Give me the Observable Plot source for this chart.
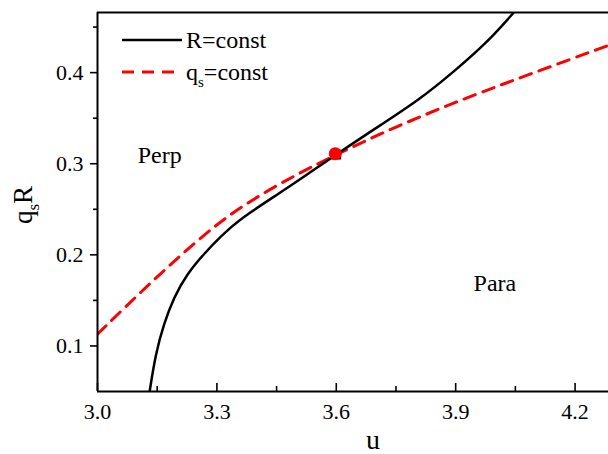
<!DOCTYPE html>
<html><head><meta charset="utf-8">
<script src="https://cdn.jsdelivr.net/npm/d3@7"></script>
<script src="https://cdn.jsdelivr.net/npm/@observablehq/plot@0.6"></script>
<style>body{margin:0;background:#fff}</style>
</head><body><div id="chart"></div>
<script>
// R = const (solid black)
const rConstU = [3.131, 3.146, 3.167, 3.192, 3.225, 3.267, 3.322, 3.377, 3.469, 3.536, 3.600, 3.678, 3.812, 3.895, 3.979, 4.046];
const rConstQ = [0.050, 0.0915, 0.1245, 0.1535, 0.179, 0.201, 0.226, 0.245, 0.271, 0.291, 0.310, 0.333, 0.371, 0.401, 0.433, 0.466];
// q_s = const (red dashed)
const qConstU = [3.000, 3.129, 3.276, 3.377, 3.503, 3.600, 3.745, 3.930, 4.097, 4.284];
const qConstQ = [0.113, 0.168, 0.226, 0.258, 0.289, 0.310, 0.340, 0.373, 0.400, 0.430];
// crossing point
const crossU = [3.6];
const crossQ = [0.31];
// region labels
const regionNames = ["Perp", "Para"];
const regionU = [3.101, 3.945];
const regionQ = [0.301, 0.160];
// axes
const xDomain = [3.0, 4.284];
const yDomain = [0.05, 0.466];
const xMajor = [3.0, 3.3, 3.6, 3.9, 4.2];
const xMinor = [3.15, 3.45, 3.75, 4.05];
const yMajor = [0.1, 0.2, 0.3, 0.4];
const yMinor = [0.15, 0.25, 0.35, 0.45];
const legendNames = ["R=const", "=const"];

const rData = rConstU.map((u, i) => ({u, q: rConstQ[i]}));
const qData = qConstU.map((u, i) => ({u, q: qConstQ[i]}));
const crossData = crossU.map((u, i) => ({u, q: crossQ[i]}));
const regionData = regionNames.map((t, i) => ({t, u: regionU[i], q: regionQ[i]}));

const W = 608, H = 454, mT = 12, mB = 63, mL = 97, mR = 0;
const plotH = H - mT - mB;
const FONT = "Liberation Serif";

const plot = Plot.plot({
  width: W, height: H,
  marginTop: mT, marginBottom: mB, marginLeft: mL, marginRight: mR,
  style: {fontFamily: FONT, fontSize: "22px"},
  x: {domain: xDomain},
  y: {domain: yDomain},
  marks: [
    Plot.line(qData, {x: "u", y: "q", stroke: "#ff0000", strokeWidth: 3, strokeDasharray: "12,8", curve: "basis", clip: true}),
    Plot.line(rData, {x: "u", y: "q", stroke: "black", strokeWidth: 2.5, curve: "basis", clip: true}),
    Plot.dot(crossData, {x: "u", y: "q", symbol: "square", r: 5.5, fill: "black"}),
    Plot.dot(crossData, {x: "u", y: "q", symbol: "circle", r: 6.5, fill: "#ff0000", dx: -1, dy: -1}),
    Plot.text(regionData, {x: "u", y: "q", text: "t", textAnchor: "start", lineAnchor: "bottom", fontSize: 24, fontFamily: FONT, fill: "black"}),
    Plot.ruleX([xDomain[0]], {stroke: "black", strokeWidth: 2}),
    Plot.ruleY(yDomain, {stroke: "black", strokeWidth: 2}),
    Plot.tickX(xMajor, {x: d => d, insetTop: plotH - 8, stroke: "black", strokeWidth: 1.6}),
    Plot.tickX(xMinor, {x: d => d, insetTop: plotH - 5, stroke: "black", strokeWidth: 1.6}),
    Plot.axisX(xMajor, {tickSize: 0, tickPadding: 12, tickFormat: d3.format(".1f"), label: null, fontSize: 22, fill: "black"}),
    Plot.axisY(yMajor, {tickSize: 7, tickPadding: 7, strokeWidth: 1.6, stroke: "black", tickFormat: d3.format(".1f"), label: null, fontSize: 22, fill: "black"}),
    Plot.axisY(yMinor, {tickSize: 4, strokeWidth: 1.6, stroke: "black", tickFormat: () => "", label: null})
  ]
});
document.getElementById("chart").appendChild(plot);

const svg = d3.select(plot);
// x label
svg.append("text").attr("x", 373).attr("y", 449).attr("text-anchor", "middle")
  .attr("font-family", FONT).attr("font-size", 28).attr("fill", "black").text("u");
// y label q_s R
const yl = svg.append("text").attr("transform", "translate(32,205) rotate(-90)").attr("text-anchor", "middle")
  .attr("font-family", FONT).attr("font-size", 27).attr("fill", "black");
yl.append("tspan").text("q");
yl.append("tspan").attr("dy", 7).attr("font-size", 17).text("s");
yl.append("tspan").attr("dy", -7).text("R");
// legend
const lg = svg.append("g").attr("text-anchor", "start").attr("font-family", FONT);
lg.append("line").attr("x1", 122).attr("x2", 182).attr("y1", 40).attr("y2", 40).attr("stroke", "black").attr("stroke-width", 2.5);
lg.append("text").attr("x", 186).attr("y", 48).attr("font-size", 24).attr("fill", "black").text(legendNames[0]);
lg.append("line").attr("x1", 122).attr("x2", 182).attr("y1", 72).attr("y2", 72).attr("stroke", "#ff0000").attr("stroke-width", 3).attr("stroke-dasharray", "12,8");
const t2 = lg.append("text").attr("x", 186).attr("y", 80).attr("font-size", 24).attr("fill", "black");
t2.append("tspan").text("q");
t2.append("tspan").attr("dy", 7).attr("font-size", 15).text("s");
t2.append("tspan").attr("dy", -7).text(legendNames[1]);
</script>
</body></html>
